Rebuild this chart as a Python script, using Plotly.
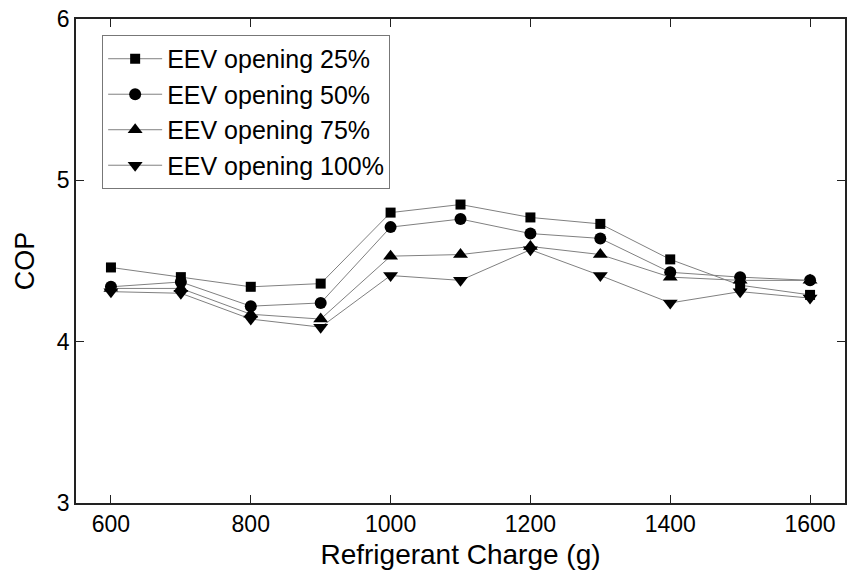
import plotly.graph_objects as go

# Refrigerant charge (g) and measured COP for each EEV opening
charge = [600, 700, 800, 900, 1000, 1100, 1200, 1300, 1400, 1500, 1600]
cop_25 = [4.46, 4.40, 4.34, 4.36, 4.80, 4.85, 4.77, 4.73, 4.51, 4.35, 4.29]
cop_50 = [4.34, 4.37, 4.22, 4.24, 4.71, 4.76, 4.67, 4.64, 4.43, 4.40, 4.38]
cop_75 = [4.33, 4.33, 4.17, 4.14, 4.53, 4.54, 4.59, 4.54, 4.40, 4.38, 4.38]
cop_100 = [4.31, 4.30, 4.14, 4.09, 4.41, 4.38, 4.57, 4.41, 4.24, 4.31, 4.27]

series_names = ["EEV opening 25%", "EEV opening 50%", "EEV opening 75%", "EEV opening 100%"]
series_values = [cop_25, cop_50, cop_75, cop_100]
symbols = ["square", "circle", "triangle-up", "triangle-down"]
sizes = [10, 12, 13, 13]

FONT = "Liberation Sans, Arial, sans-serif"

fig = go.Figure()
for name, vals, sym, sz in zip(series_names, series_values, symbols, sizes):
    fig.add_trace(go.Scatter(
        x=charge, y=vals, name=name, mode="lines+markers",
        line=dict(color="#808080", width=1),
        marker=dict(symbol=sym, size=sz, color="black", line=dict(width=0)),
    ))

axis_common = dict(
    showline=True, linecolor="#222222", linewidth=1.5, mirror="ticks",
    ticks="inside", ticklen=8, tickwidth=1.2, tickcolor="#222222",
    showgrid=False, zeroline=False,
    tickfont=dict(family=FONT, size=23, color="black"),
)

fig.update_layout(
    width=848, height=577,
    paper_bgcolor="white", plot_bgcolor="white",
    margin=dict(l=76, r=1, t=19, b=74),
    font=dict(family=FONT, color="black"),
    xaxis=dict(range=[550, 1650], tickvals=[600, 800, 1000, 1200, 1400, 1600],
               title=dict(text="Refrigerant Charge (g)", font=dict(family=FONT, size=28), standoff=8),
               **axis_common),
    yaxis=dict(range=[3, 6], tickvals=[3, 4, 5, 6],
               title=dict(text="COP", font=dict(family=FONT, size=27), standoff=14),
               **axis_common),
    legend=dict(x=0.034, y=0.967, xanchor="left", yanchor="top",
                bgcolor="white", bordercolor="#777777", borderwidth=1,
                font=dict(family=FONT, size=25), tracegroupgap=0,
                itemwidth=54),
    showlegend=True,
)

fig.write_html("out.html")
